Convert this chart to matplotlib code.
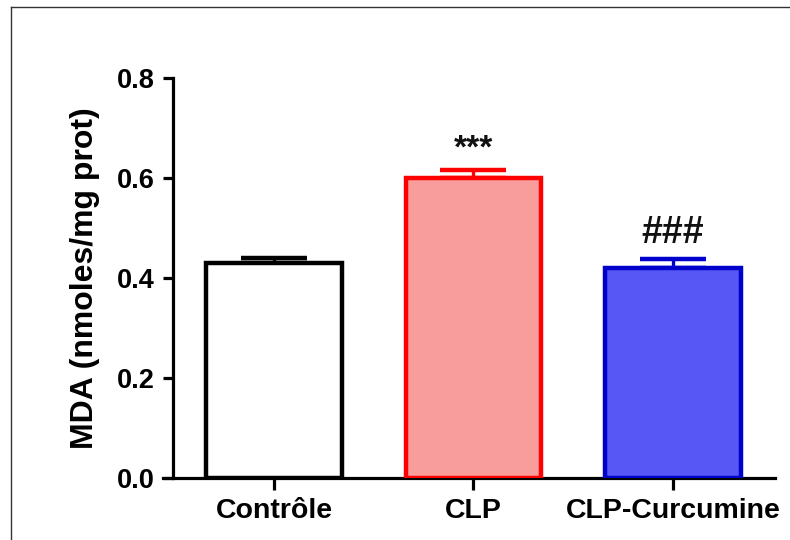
import matplotlib
matplotlib.use("Agg")
import matplotlib.pyplot as plt
from matplotlib.lines import Line2D

# donnees
groupes = ["Contrôle", "CLP", "CLP-Curcumine"]
moyennes = [0.431, 0.601, 0.421]
sem = [0.010, 0.016, 0.017]
signif = ["", "***", "###"]
yticks = [0.0, 0.2, 0.4, 0.6, 0.8]

couleurs_fond = ["#FFFFFF", "#F99C9C", "#5757F5"]
couleurs_bord = ["#000000", "#FF0000", "#0000CC"]

plt.rcParams["font.family"] = ["Liberation Sans", "DejaVu Sans"]
plt.rcParams["font.weight"] = "bold"

fig = plt.figure(figsize=(7.9, 5.4), dpi=100)
ax = fig.add_axes([163 / 790, 1 - 478 / 540, 612 / 790, 400 / 540])

x = list(range(len(groupes)))
ax.bar(x, moyennes, width=0.68, color=couleurs_fond, edgecolor=couleurs_bord,
       linewidth=3.2, zorder=3)

for i in x:
    ax.errorbar(i, moyennes[i], yerr=[[0], [sem[i]]], fmt="none",
                ecolor=couleurs_bord[i], elinewidth=2.4, capsize=24,
                capthick=3.2, zorder=2)

# annotations de significativite
ax.text(1, 0.64, signif[1], ha="center", va="baseline", fontsize=24,
        fontweight="bold", color="#111111")
ax.text(2, 0.47, signif[2], ha="center", va="baseline", fontsize=27,
        fontweight="bold", color="#111111")

ax.set_xlim(-0.556, 2.511)
ax.set_ylim(0, 0.8)
ax.spines["left"].set_position(("data", -0.506))
ax.spines["top"].set_visible(False)
ax.spines["right"].set_visible(False)
for s in ["left", "bottom"]:
    ax.spines[s].set_linewidth(2.3)

ax.set_yticks(yticks)
ax.set_yticklabels([f"{v:.1f}" for v in yticks], fontsize=19.5, fontweight="bold")
ax.set_xticks(x)
ax.set_xticklabels(groupes, fontsize=20.5, fontweight="bold")
ax.tick_params(axis="y", length=7, width=2.3, pad=6)
ax.tick_params(axis="x", length=8.5, width=2.3, pad=6)
ax.set_ylabel("MDA (nmoles/mg prot)", fontsize=23, fontweight="bold", labelpad=12)

# cadre fin en haut et a gauche
fig.add_artist(Line2D([11 / 790, 11 / 790], [0, 1 - 7 / 540], color="#333333", lw=1))
fig.add_artist(Line2D([11 / 790, 1], [1 - 7 / 540, 1 - 7 / 540], color="#333333", lw=1))

fig.savefig("out.png", dpi=100)
